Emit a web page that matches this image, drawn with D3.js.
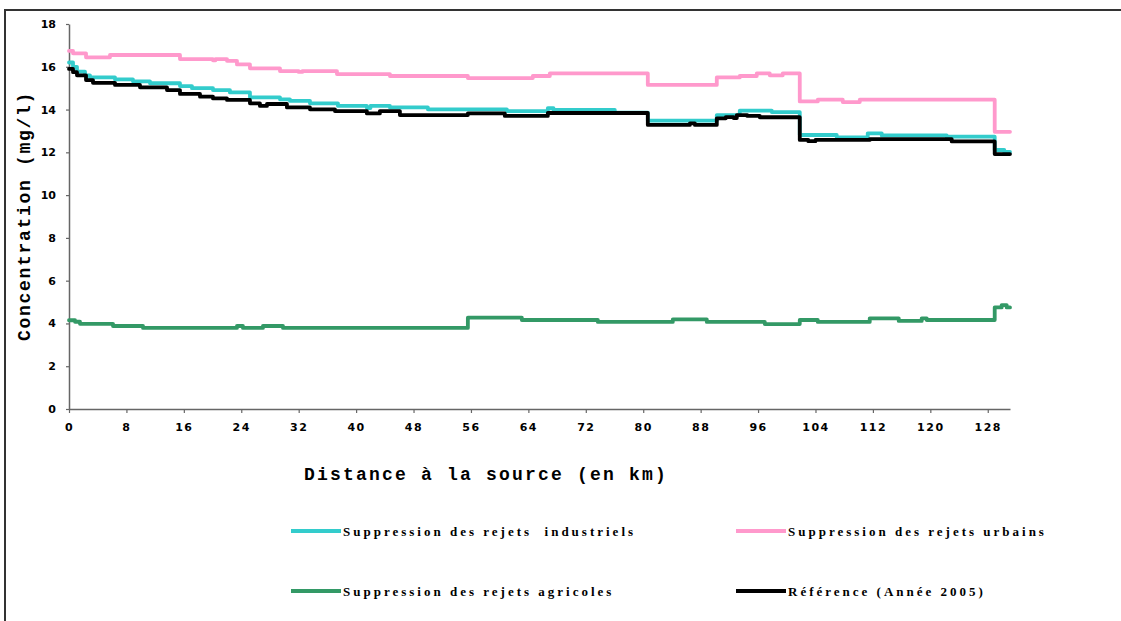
<!DOCTYPE html>
<html>
<head>
<meta charset="utf-8">
<script src="https://cdn.jsdelivr.net/npm/d3@7"></script>
<style>
  body { margin: 0; background: #fff; }
  svg { display: block; }
</style>
</head>
<body>
<svg id="chart"></svg>
<script>
// [distance km, concentration mg/l] breakpoints (step lines)
let industriels = [[0,16.2],[0.56,16.0],[1.11,15.77],[2.23,15.6],[2.92,15.5],[6.41,15.41],[8.91,15.32],[11.28,15.23],
  [15.46,15.1],[17.13,15.0],[20.06,14.91],[22.42,14.8],[25.21,14.57],[29.39,14.48],[30.78,14.41],[33.57,14.29],
  [37.47,14.17],[41.5,14.07],[42.0,14.17],[44.71,14.1],[50.0,14.01],[61.0,13.93],[66.71,14.06],[67.5,13.98],
  [76.04,13.86],[80.64,13.48],[90.25,13.74],[93.45,13.95],[97.91,13.88],[101.81,12.81],[106.96,12.70],
  [111.28,12.89],[113.23,12.79],[122.28,12.73],[128.97,12.11],[130.3,12.02],[131.1,12.02]]

let urbains = [[0,16.74],[0.56,16.63],[2.37,16.44],[5.71,16.55],[15.46,16.36],[20.06,16.3],[20.4,16.36],[22.01,16.28],
  [23.4,16.11],[25.21,15.93],[29.39,15.8],[32.0,15.76],[32.5,15.8],[37.33,15.66],[44.71,15.57],[55.57,15.47],
  [64.62,15.57],[66.99,15.69],[80.64,15.15],[90.25,15.5],[93.45,15.57],[95.82,15.69],[97.63,15.6],[99.44,15.69],
  [101.81,14.38],[104.32,14.46],[107.8,14.35],[110.17,14.46],[128.97,12.96],[131.1,12.96]]

let agricoles = [[0,4.15],[0.84,4.08],[1.53,3.98],[6.13,3.88],[10.31,3.79],[23.4,3.88],[24.23,3.79],[27.02,3.88],
  [29.81,3.79],[55.57,4.27],[63.09,4.16],[73.68,4.07],[84.12,4.19],[88.86,4.07],[96.94,3.97],[101.81,4.16],
  [104.32,4.07],[111.56,4.24],[115.6,4.12],[118.8,4.24],[119.5,4.16],[128.97,4.75],[129.94,4.86],[130.64,4.75],[131.1,4.75]]

let reference = [[0,15.9],[0.56,15.75],[1.11,15.6],[2.37,15.38],[3.34,15.25],[6.41,15.15],[9.89,15.04],[13.65,14.91],
  [15.46,14.73],[18.25,14.6],[20.06,14.52],[22.01,14.45],[25.21,14.29],[26.6,14.17],[27.58,14.26],[30.36,14.1],
  [33.57,14.01],[37.05,13.93],[41.5,13.82],[43.31,13.93],[46.1,13.74],[55.57,13.82],[60.72,13.70],[66.71,13.84],
  [80.64,13.28],[86.5,13.35],[87.2,13.28],[90.25,13.59],[91.5,13.65],[92.6,13.6],[93.04,13.74],[94.5,13.70],
  [96.24,13.64],[101.81,12.58],[103.0,12.52],[104.0,12.58],[111.56,12.62],[122.98,12.51],[128.97,11.92],[131.1,11.92]]

let xTicks = [0,8,16,24,32,40,48,56,64,72,80,88,96,104,112,120,128]
let yTicks = [0,2,4,6,8,10,12,14,16,18]

let seriesNames = ['Suppression des rejets  industriels','Suppression des rejets urbains',
  'Suppression des rejets agricoles','Référence (Année 2005)']
let seriesColors = ['#33cccc','#ff99cc','#339966','#000000']

let width=1121
let height=621

let svg=d3.select('#chart').attr('width',width).attr('height',height)

// outer frame
svg.append('rect')
  .attr('x',5).attr('y',10)
  .attr('width',1140).attr('height',640)
  .attr('fill','none').attr('stroke','#333').attr('stroke-width',2)

let xScale=d3.scaleLinear().domain([0,131.1]).range([69,1010])
let yScale=d3.scaleLinear().domain([0,18]).range([409,24])

let yAxis=d3.axisLeft(yScale).tickValues(yTicks).tickSize(3).tickSizeOuter(0).tickPadding(10)
let xAxis=d3.axisBottom(xScale).tickValues(xTicks).tickSize(4).tickSizeOuter(0).tickPadding(10)

let gy=svg.append('g').attr('transform','translate(69,0)').call(yAxis)
let gx=svg.append('g').attr('transform','translate(0,409)').call(xAxis)

;[gx,gy].forEach(g=>{
  g.select('.domain').attr('stroke','#666').attr('stroke-width',1.5)
  g.selectAll('.tick line').attr('stroke','#666').attr('stroke-width',1.2)
  g.selectAll('.tick text')
    .attr('fill','#000')
    .style('font-family','"DejaVu Sans", Verdana, sans-serif')
    .style('font-weight','bold')
    .style('font-size','11px')
})
gx.selectAll('.tick text').style('letter-spacing','1.5px')

let allSeries=[industriels,urbains,agricoles,reference]

let line=d3.line()
  .x(d=>xScale(d[0]))
  .y(d=>yScale(d[1]))
  .curve(d3.curveStepAfter)

svg.selectAll('path.serie')
  .data(allSeries)
  .enter()
  .append('path')
  .attr('class','serie')
  .attr('d',line)
  .attr('fill','none')
  .attr('stroke',(d,i)=>seriesColors[i])
  .attr('stroke-width',3.8)
  .attr('stroke-linejoin','round')
  .attr('stroke-linecap','round')

// axis titles
svg.append('text')
  .attr('x',486).attr('y',480)
  .attr('text-anchor','middle')
  .style('font-family','"Liberation Mono", "Courier New", monospace')
  .style('font-weight','bold')
  .style('font-size','18px')
  .style('letter-spacing','2.2px')
  .text('Distance à la source (en km)')

svg.append('text')
  .attr('transform','translate(30,216) rotate(-90)')
  .attr('text-anchor','middle')
  .style('font-family','"Liberation Mono", "Courier New", monospace')
  .style('font-weight','bold')
  .style('font-size','18px')
  .style('letter-spacing','1.7px')
  .text('Concentration (mg/l)')

// legend
let legendPos=[[291,531],[736,531],[291,591],[736,591]]
let legend=svg.selectAll('g.legend')
  .data(seriesNames)
  .enter()
  .append('g')
  .attr('class','legend')
  .attr('transform',(d,i)=>'translate('+legendPos[i][0]+','+legendPos[i][1]+')')

legend.append('line')
  .attr('x1',0).attr('x2',50)
  .attr('y1',0).attr('y2',0)
  .attr('stroke',(d,i)=>seriesColors[i])
  .attr('stroke-width',3.8)

legend.append('text')
  .attr('x',52).attr('y',4.5)
  .style('font-family','"Liberation Serif", "Times New Roman", serif')
  .style('font-weight','bold')
  .style('font-size','13px')
  .style('letter-spacing','3px')
  .style('white-space','pre')
  .text(d=>d)
</script>
</body>
</html>
